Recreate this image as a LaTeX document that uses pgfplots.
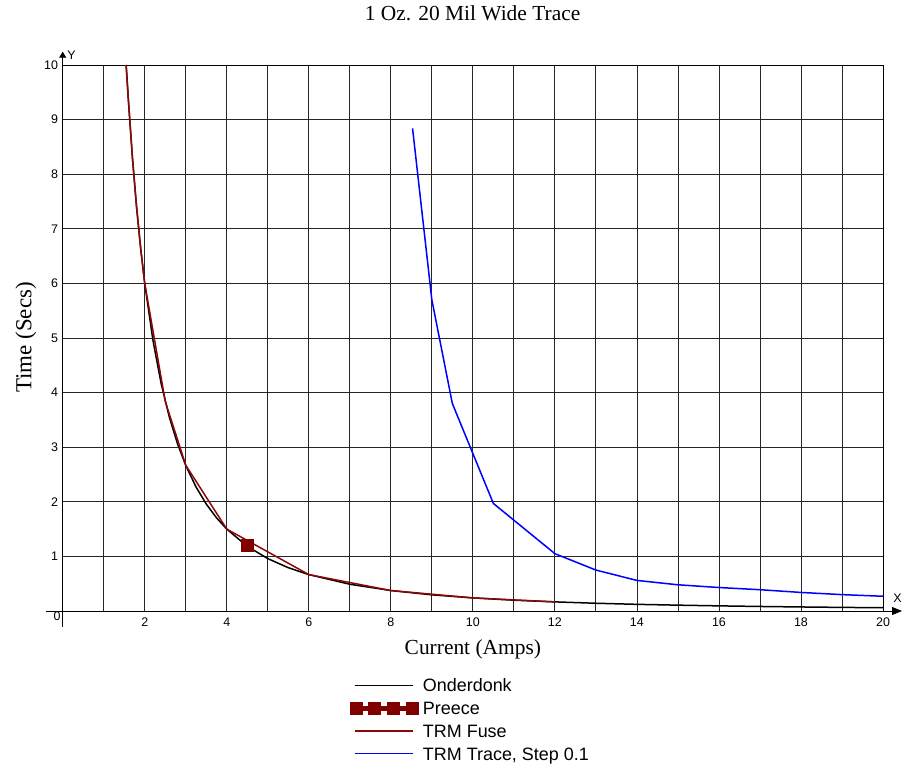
\documentclass[border=0pt]{standalone}
\usepackage{pgfplots}
\pgfplotsset{compat=1.18}
\usetikzlibrary{arrows.meta}
\usepackage{fontspec}
\setmainfont{Liberation Serif}
\newfontfamily\arial{Liberation Sans}
\definecolor{darkred}{RGB}{128,0,0}
\definecolor{trmred}{RGB}{140,8,8}
\definecolor{ondblack}{RGB}{0,0,0}
\definecolor{trmblue}{RGB}{0,0,255}
\begin{document}
\begin{tikzpicture}
\path[use as bounding box] (-62.7bp,-158bp) rectangle (841.3bp,611bp);
\begin{axis}[
  at={(0,0)}, anchor=south west,
  width=820.3bp, height=546bp, scale only axis,
  xmin=0, xmax=20, ymin=0, ymax=10,
  xtick={2,4,...,20}, minor xtick={1,3,...,19}, ytick={1,...,10},
  grid=both,
  major grid style={black!85, line width=0.8bp},
  minor grid style={black!85, line width=0.8bp},
  axis line style={black, line width=0.8bp},
  major tick length=0pt, minor tick length=0pt,
  tick label style={font=\arial\fontsize{12.5}{14}\selectfont},
  /pgf/number format/assume math mode=true,
  yticklabel style={anchor=east, inner sep=0pt, xshift=-4.5bp},
  xticklabel style={anchor=north, inner sep=0pt, yshift=-7bp},
  title={1 Oz. 20 Mil Wide Trace},
  title style={at={(axis description cs:0.4996,1.07015)}, anchor=base, inner sep=0pt, font=\fontsize{21.5}{25}\selectfont},
  xlabel={Current (Amps)},
  xlabel style={at={(axis description cs:0.5,-0.07875)}, anchor=base, inner sep=0pt, font=\fontsize{21.5}{25}\selectfont},
  ylabel={Time (Secs)},
  ylabel style={at={(axis description cs:-0.03804,0.5009)}, anchor=base, rotate=0, inner sep=0pt, font=\fontsize{23}{26}\selectfont},
  legend cell align=left,
  legend style={at={(axis description cs:0.35024,-0.12463)}, anchor=north west, draw=none, fill=none,
    inner sep=0pt, outer sep=0pt, row sep=9.8bp, column sep=5bp,
    font=\arial\fontsize{18}{21}\selectfont,
    nodes={inner sep=0pt, text height=12.9bp, text depth=0pt}},
  legend image code/.code={\draw[mark repeat=2,mark phase=2] plot coordinates {(0bp,0bp) (29bp,0bp) (58bp,0bp)};},
]
% Onderdonk
\addplot[ondblack, line width=1.5bp] coordinates {
(1.549,10.0) (1.6,9.375) (1.7,8.304) (1.8,7.407) (1.9,6.648) (2.0,6.0)
(2.2,4.959) (2.4,4.167) (2.6,3.550) (2.8,3.061) (3.0,2.667) (3.25,2.272)
(3.5,1.959) (3.75,1.707) (4.0,1.5) (4.5,1.185) (5.0,0.96) (5.5,0.793)
(6.0,0.667) (7.0,0.490) (8.0,0.375) (9.0,0.296) (10.0,0.24) (11.0,0.198)
(12.0,0.167) (13.0,0.142) (14.0,0.122) (15.0,0.107) (16.0,0.094)
(17.0,0.083) (18.0,0.074) (19.0,0.066) (20.0,0.06)};
\addlegendentry{Onderdonk}
% Preece
\addplot[darkred, line width=5bp, mark=square*, mark size=6bp, mark options={line width=0.5bp, solid},
  legend image code/.code={\draw[mark repeat=1] plot coordinates {(1bp,0bp) (19.7bp,0bp) (38.3bp,0bp) (57bp,0bp)};}]
  coordinates {(4.5,1.2)};
\addlegendentry{Preece}
% TRM Fuse
\addplot[trmred, line width=1.5bp] coordinates {
(1.544,10.0) (1.6,9.375) (1.7,8.304) (1.8,7.407) (1.9,6.648) (2.0,6.0)
(2.5,3.84) (3.0,2.67) (4.0,1.5) (6.0,0.667) (8.0,0.375) (10.0,0.24) (12.0,0.167)};
\addlegendentry{TRM Fuse}
% TRM Trace, Step 0.1
\addplot[trmblue, line width=1.5bp] coordinates {
(8.53,8.84) (9.0,5.7) (9.5,3.8) (10.5,1.97) (12.0,1.05) (13.0,0.75)
(14.0,0.56) (15.0,0.48) (16.0,0.43) (17.0,0.39) (18.0,0.34) (19.0,0.30) (20.0,0.27)};
\addlegendentry{TRM Trace, Step 0.1}
% Preece marker drawn again on top of the lines
\addplot[darkred, only marks, mark=square*, mark size=6bp, mark options={line width=0.5bp}, forget plot] coordinates {(4.5,1.2)};
\end{axis}
\draw[black, line width=0.8bp, -{Triangle[length=10bp,width=8bp]}] (-16.7bp,0bp) -- (839.3bp,0bp);
\draw[black, line width=0.8bp, -{Triangle[length=6bp,width=7bp]}] (0bp,-16bp) -- (0bp,559.3bp);
\node[font=\arial\fontsize{12.5}{14}\selectfont, inner sep=0pt] at (834.8bp,13bp) {X};
\node[font=\arial\fontsize{12.5}{14}\selectfont, inner sep=0pt] at (8.8bp,556bp) {Y};
\node[font=\arial\fontsize{12.5}{14}\selectfont, inner sep=0pt, anchor=north east] at (-2bp,-0.7bp) {0};
\end{tikzpicture}
\end{document}
